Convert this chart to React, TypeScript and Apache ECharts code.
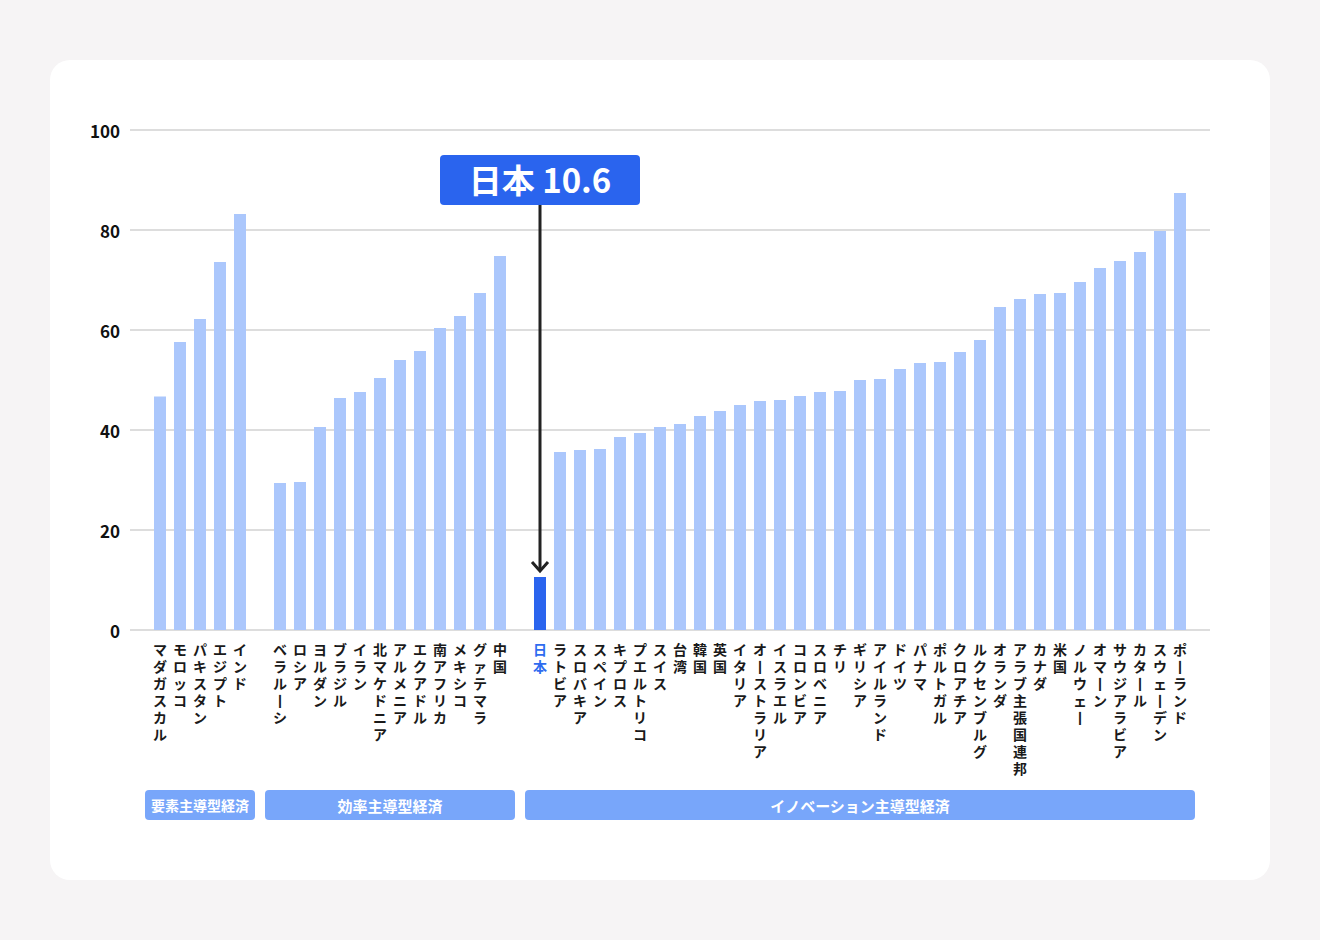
import React, { useEffect, useRef } from "react";
import * as echarts from "echarts";

// Factor-driven economies
const group1Names = ["マダガスカル", "モロッコ", "パキスタン", "エジプト", "インド"];
const group1Values = [46.7, 57.6, 62.2, 73.6, 83.2];

// Efficiency-driven economies
const group2Names = ["ベラルーシ", "ロシア", "ヨルダン", "ブラジル", "イラン", "北マケドニア", "アルメニア", "エクアドル", "南アフリカ", "メキシコ", "グァテマラ", "中国"];
const group2Values = [29.4, 29.6, 40.6, 46.4, 47.6, 50.4, 54.0, 55.8, 60.4, 62.8, 67.4, 74.8];

// Innovation-driven economies
const group3Names = ["日本", "ラトビア", "スロバキア", "スペイン", "キプロス", "プエルトリコ", "スイス", "台湾", "韓国", "英国", "イタリア", "オーストラリア", "イスラエル", "コロンビア", "スロベニア", "チリ", "ギリシア", "アイルランド", "ドイツ", "パナマ", "ポルトガル", "クロアチア", "ルクセンブルグ", "オランダ", "アラブ主張国連邦", "カナダ", "米国", "ノルウェー", "オマーン", "サウジアラビア", "カタール", "スウェーデン", "ポーランド"];
const group3Values = [10.6, 35.6, 36.0, 36.2, 38.6, 39.4, 40.6, 41.2, 42.8, 43.8, 45.0, 45.8, 46.0, 46.8, 47.6, 47.8, 50.0, 50.2, 52.2, 53.4, 53.6, 55.6, 58.0, 64.6, 66.2, 67.2, 67.4, 69.6, 72.4, 73.8, 75.6, 79.8, 87.4];

const groupLabels = ["要素主導型経済", "効率主導型経済", "イノベーション主導型経済"];
const yTicks = [0, 20, 40, 60, 80, 100];

const highlightName = "日本";
const highlightTitle = "日本 10.6";

const LIGHT = "#abc7fc";
const BLUE = "#2a64ee";
const BANNER = "#78a6fa";
const FONT = "'Noto Sans CJK JP', 'Noto Sans', sans-serif";

export default function App() {
  const ref = useRef<HTMLDivElement>(null);

  useEffect(() => {
    document.body.style.margin = "0";
    if (!ref.current) return;
    const chart = echarts.init(ref.current, undefined, { renderer: "svg" });

    const groups = [
      { names: group1Names, values: group1Values },
      { names: group2Names, values: group2Values },
      { names: group3Names, values: group3Values },
    ];
    const categories: string[] = [];
    const values: any[] = [];
    const ranges: [number, number][] = [];
    groups.forEach((g, gi) => {
      if (gi > 0) {
        categories.push(" ".repeat(gi));
        values.push(null);
      }
      const start = categories.length;
      g.names.forEach((n, i) => {
        categories.push(n);
        values.push(
          n === highlightName
            ? { value: g.values[i], itemStyle: { color: BLUE } }
            : g.values[i]
        );
      });
      ranges.push([start, categories.length - 1]);
    });

    const vertical = (s: string) =>
      s.trim() === "" ? "" : Array.from(s).map((c) => (c === "ー" ? "丨" : c)).join("\n");

    chart.setOption({
      animation: false,
      textStyle: { fontFamily: FONT },
      grid: [
        { left: 130, right: 110, top: 130, bottom: 310 },
        { left: 150, right: 130, top: 130, bottom: 310 },
      ],
      xAxis: [
        { type: "value", gridIndex: 0, min: 0, max: 1, show: false },
        {
          type: "category",
          gridIndex: 1,
          data: categories,
          axisLine: { show: false },
          axisTick: { show: false },
          axisLabel: {
            interval: 0,
            margin: 10,
            fontSize: 14,
            lineHeight: 17,
            fontWeight: "bold",
            fontFamily: FONT,
            verticalAlign: "top",
            color: (v: string) => (v === highlightName ? "#2f6cf0" : "#1a1a1a"),
            formatter: (v: string) => vertical(v),
          },
        },
      ],
      yAxis: [
        {
          type: "value",
          gridIndex: 0,
          min: yTicks[0],
          max: yTicks[yTicks.length - 1],
          interval: 20,
          axisLine: { show: false },
          axisTick: { show: false },
          axisLabel: {
            margin: 10,
            fontSize: 17,
            fontWeight: "bold",
            color: "#111",
            fontFamily: FONT,
          },
          splitLine: { lineStyle: { color: "#dddddd", width: 2 } },
        },
        {
          type: "value",
          gridIndex: 1,
          min: 0,
          max: 100,
          show: false,
          splitLine: { show: false },
        },
      ],
      series: [
        {
          type: "bar",
          xAxisIndex: 1,
          yAxisIndex: 1,
          data: values,
          barWidth: 12,
          itemStyle: { color: LIGHT },
        },
      ],
    });

    // annotation + group banners located via the chart's own scales
    const hlIndex = categories.indexOf(highlightName);
    const hlValue = group3Values[group3Names.indexOf(highlightName)];
    const barTop = chart.convertToPixel({ xAxisIndex: 1, yAxisIndex: 1 } as any, [hlIndex, hlValue]) as number[];
    const boxTop = chart.convertToPixel({ yAxisIndex: 1 } as any, 95) as number;
    const cx = barTop[0];
    const boxW = 200;
    const boxH = 50;
    const tipY = barTop[1] - 6;

    const graphics: any[] = [
      {
        type: "rect",
        shape: { x: cx - boxW / 2, y: boxTop, width: boxW, height: boxH, r: 4 },
        style: { fill: BLUE },
        z: 10,
      },
      {
        type: "text",
        x: cx,
        y: boxTop + boxH / 2 - 1,
        style: {
          text: highlightTitle,
          fill: "#fff",
          font: `bold 33px ${FONT}`,
          align: "center",
          verticalAlign: "middle",
        },
        z: 11,
      },
      {
        type: "line",
        shape: { x1: cx, y1: boxTop + boxH, x2: cx, y2: tipY },
        style: { stroke: "#222", lineWidth: 3 },
        z: 9,
      },
      {
        type: "polyline",
        shape: { points: [[cx - 8, tipY - 9], [cx, tipY], [cx + 8, tipY - 9]] },
        style: { stroke: "#222", lineWidth: 3, fill: null },
        z: 9,
      },
    ];

    ranges.forEach(([s, e], gi) => {
      const x1 = chart.convertToPixel({ xAxisIndex: 1 } as any, s) as number;
      const x2 = chart.convertToPixel({ xAxisIndex: 1 } as any, e) as number;
      const left = x1 - 15;
      const right = x2 + 15;
      graphics.push({
        type: "rect",
        shape: { x: left, y: 790, width: right - left, height: 30, r: 4 },
        style: { fill: BANNER },
      });
      graphics.push({
        type: "text",
        x: (left + right) / 2,
        y: 805,
        style: {
          text: groupLabels[gi],
          fill: "#fff",
          font: `bold ${gi === 0 ? 14 : 15}px ${FONT}`,
          align: "center",
          verticalAlign: "middle",
        },
      });
    });

    chart.setOption({ graphic: graphics });

    return () => chart.dispose();
  }, []);

  return (
    <div style={{ position: "relative", width: 1320, height: 940, background: "#f6f4f5", overflow: "hidden" }}>
      <div
        style={{
          position: "absolute",
          left: 50,
          top: 60,
          width: 1220,
          height: 820,
          background: "#fff",
          borderRadius: 20,
        }}
      />
      <div ref={ref} style={{ position: "absolute", left: 0, top: 0, width: 1320, height: 940 }} />
    </div>
  );
}
